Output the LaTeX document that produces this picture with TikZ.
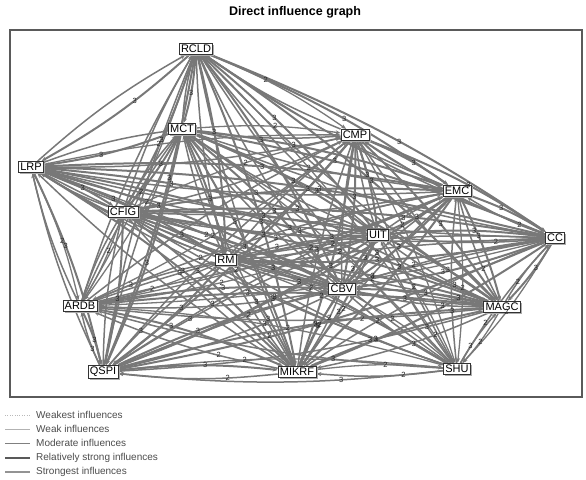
\documentclass[tikz,border=0pt]{standalone}
\usepackage{fontspec}
\setmainfont{Liberation Sans}
\usetikzlibrary{arrows.meta,shadows,backgrounds}
\definecolor{edgegray}{HTML}{787878}
\definecolor{framegray}{HTML}{5A5A5A}
\tikzset{
  factor/.style={
    draw=black!80,
    fill=white,
    line width=0.8pt,
    inner sep=1.8pt,
    font=\fontsize{11}{12}\selectfont,
    drop shadow={shadow xshift=1.6pt, shadow yshift=-1.6pt, fill=gray!65, opacity=1}
  },
  infl/.style={
    draw=edgegray,
    -{Stealth[length=5pt,width=4pt]},
    bend left=6
  },
  weightlbl/.style={
    font=\fontsize{7.5}{8}\selectfont,
    text=black!85,
    inner sep=0.5pt
  },
  legendtxt/.style={
    anchor=west,
    inner sep=0pt,
    font=\fontsize{10}{11}\selectfont,
    text=black!70
  }
}

\begin{document}
\begin{tikzpicture}[x=1pt,y=-1pt]
    \useasboundingbox (0,0) rectangle (586,479);

    % Title and frame
    \node[font=\fontsize{12.5}{14}\selectfont\bfseries] (title) at (295,12) {Direct influence graph};
    \draw[framegray, line width=1.2pt] (10,30) rectangle (582,397);

    % Factors
    \node[factor] (RCLD) at (196,49) {RCLD};
    \node[factor] (MCT) at (182,129) {MCT};
    \node[factor] (LRP) at (31,167) {LRP};
    \node[factor] (CFIG) at (123,212) {CFIG};
    \node[factor] (CMP) at (355,135) {CMP};
    \node[factor] (EMC) at (457,191) {EMC};
    \node[factor] (UIT) at (378,235) {UIT};
    \node[factor] (CC) at (555,238) {CC};
    \node[factor] (RM) at (226,260) {RM};
    \node[factor] (ARDB) at (80,306) {ARDB};
    \node[factor] (QSPI) at (103,372) {QSPI};
    \node[factor] (MIKRF) at (297,372) {MIKRF};
    \node[factor] (CBV) at (342,289) {CBV};
    \node[factor] (MAGC) at (502,307) {MAGC};
    \node[factor] (SHU) at (457,369) {SHU};

    % Influences (every pair, both ways)
    \foreach \a [count=\i] in {RCLD,MCT,LRP,CFIG,CMP,EMC,UIT,CC,RM,ARDB,QSPI,MIKRF,CBV,MAGC,SHU}{
      \foreach \b [count=\j] in {RCLD,MCT,LRP,CFIG,CMP,EMC,UIT,CC,RM,ARDB,QSPI,MIKRF,CBV,MAGC,SHU}{
        \ifnum\j>\i
          \pgfmathtruncatemacro\w{mod(\i*5+\j*3,5)==0 ? 2 : 3}
          \pgfmathsetmacro\lw{\w==3 ? 2.0 : 1.3}
          \pgfmathsetmacro\p{mod(\i+\j,2)==0 ? 0.38 : 0.55}
          \pgfmathtruncatemacro\v{mod(\i*\j,4)==0 ? 2 : 3}
          \begin{pgfonlayer}{background}
            \draw[infl, line width=\lw pt] (\a) to (\b);
            \draw[infl, line width=1.5pt] (\b) to (\a);
          \end{pgfonlayer}
          % weights on top of the lines
          \path[bend left=6] (\a) to node[weightlbl, pos=\p] {\w} (\b);
          \ifnum\i>5
            \path[bend left=6] (\b) to node[weightlbl, pos=0.3] {\v} (\a);
          \fi
        \fi
      }
    }

    % Legend
    \node[legendtxt] (lg1) at (36,415) {Weakest influences};
    \node[legendtxt] (lg2) at (36,429) {Weak influences};
    \node[legendtxt] (lg3) at (36,443) {Moderate influences};
    \node[legendtxt] (lg4) at (36,458) {Relatively strong influences};
    \node[legendtxt] (lg5) at (36,472) {Strongest influences};
    \draw[gray!55, line width=0.4pt, dotted] ([xshift=-31pt]lg1.west) -- ([xshift=-6pt]lg1.west);
    \draw[gray!60, line width=0.6pt] ([xshift=-31pt]lg2.west) -- ([xshift=-6pt]lg2.west);
    \draw[gray, line width=0.9pt] ([xshift=-31pt]lg3.west) -- ([xshift=-6pt]lg3.west);
    \draw[black!65, line width=1.8pt] ([xshift=-31pt]lg4.west) -- ([xshift=-6pt]lg4.west);
    \draw[gray!85, line width=1.8pt] ([xshift=-31pt]lg5.west) -- ([xshift=-6pt]lg5.west);
\end{tikzpicture}
\end{document}
